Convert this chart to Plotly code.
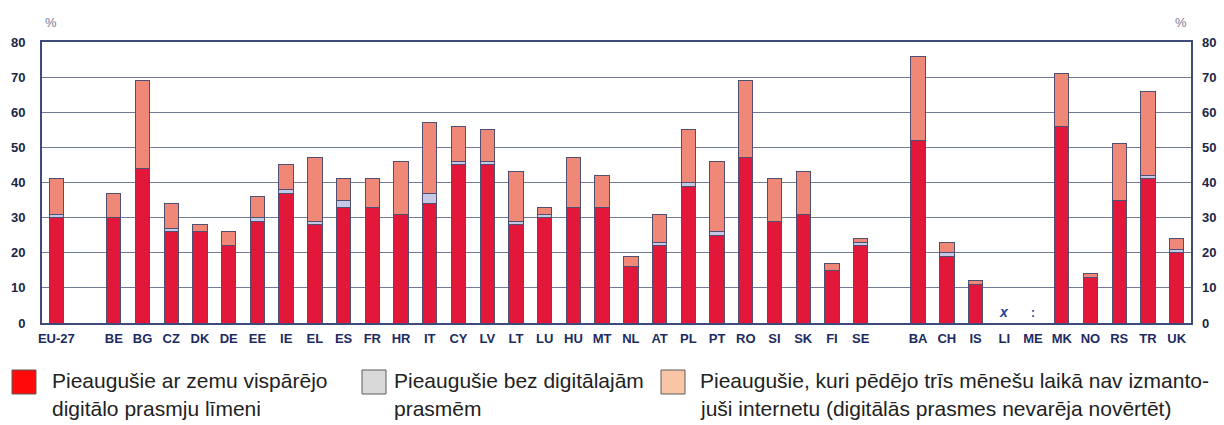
import plotly.graph_objects as go

categories = ["EU-27", " ", "BE", "BG", "CZ", "DK", "DE", "EE", "IE", "EL", "ES", "FR", "HR",
              "IT", "CY", "LV", "LT", "LU", "HU", "MT", "NL", "AT", "PL", "PT", "RO", "SI",
              "SK", "FI", "SE", "  ", "BA", "CH", "IS", "LI", "ME", "MK", "NO", "RS", "TR", "UK"]

low_skills = [30, None, 30, 44, 26, 26, 22, 29, 37, 28, 33, 33, 31,
              34, 45, 45, 28, 30, 33, 33, 16, 22, 39, 25, 47, 29,
              31, 15, 22, None, 52, 19, 11, None, None, 56, 13, 35, 41, 20]
no_skills = [1, None, 0, 0, 1, 0, 0, 1, 1, 1, 2, 0, 0,
             3, 1, 1, 1, 1, 0, 0, 0, 1, 1, 1, 0, 0,
             0, 0, 1, None, 0, 1, 0, None, None, 0, 0, 0, 1, 1]
no_internet = [10, None, 7, 25, 7, 2, 4, 6, 7, 18, 6, 8, 15,
               20, 10, 9, 14, 2, 14, 9, 3, 8, 15, 20, 22, 12,
               12, 2, 1, None, 24, 3, 1, None, None, 15, 1, 16, 24, 3]

legend_labels = [
    ["Pieaugušie ar zemu vispārējo", "digitālo prasmju līmeni"],
    ["Pieaugušie bez digitālajām", "prasmēm"],
    ["Pieaugušie, kuri pēdējo trīs mēnešu laikā nav izmanto-", "juši internetu (digitālās prasmes nevarēja novērtēt)"],
]
flags = {"LI": "x", "ME": ":"}
y_ticks = [0, 10, 20, 30, 40, 50, 60, 70, 80]

bar_colors = ["#e3173a", "#c6c9e6", "#ef8876"]
legend_colors = ["#ff0a0a", "#d9d9d9", "#f8c6a6"]
outline = "#4e4f72"
navy = "#1c2b62"

fig = go.Figure()
for vals, col in zip([low_skills, no_skills, no_internet], bar_colors):
    fig.add_trace(go.Bar(x=categories, y=vals, marker=dict(color=col, line=dict(color=outline, width=1)),
                         width=0.5, showlegend=False, hoverinfo="x+y"))
# invisible trace for right axis
fig.add_trace(go.Scatter(x=[categories[0]], y=[None], yaxis="y2", showlegend=False, hoverinfo="skip"))

fig.update_layout(
    width=1224, height=425,
    margin=dict(l=42, r=33, t=42, b=102, autoexpand=False),
    barmode="stack", bargap=0.5,
    plot_bgcolor="white", paper_bgcolor="white",
    font=dict(family="Liberation Sans, Arial, sans-serif", color=navy),
    xaxis=dict(type="category", categoryorder="array", categoryarray=categories, automargin=False,
               range=[-0.5, len(categories) - 0.5], showline=True, linecolor="#3e4b7a", linewidth=2,
               mirror=True, ticks="", showgrid=False, ticklabelstandoff=2,
               tickfont=dict(family="Liberation Sans Narrow, Arial Narrow, Liberation Sans", size=13,
                             color=navy, weight="bold")),
    yaxis=dict(range=[0, 80], tickvals=y_ticks, showgrid=True, gridcolor="#737a96", gridwidth=1.3,
               showline=True, linecolor="#3e4b7a", linewidth=2, mirror=True, zeroline=False,
               ticks="", ticklabelstandoff=12, automargin=False,
               tickfont=dict(size=13, color="#1b2647", weight="bold")),
    yaxis2=dict(range=[0, 80], tickvals=y_ticks, overlaying="y", side="right", showgrid=False,
                zeroline=False, showline=False, ticks="", ticklabelstandoff=10, automargin=False,
                tickfont=dict(size=13, color="#1b2647", weight="bold")),
)

W = 1224 - 42 - 33
H = 425 - 42 - 102

def px(x):
    return (x - 42) / W

def py(y):
    return (425 - 102 - y) / H

# % labels
for xpos in (51, 1181):
    fig.add_annotation(x=px(xpos), y=py(22), xref="paper", yref="paper", text="%", showarrow=False,
                       xanchor="center", yanchor="middle", font=dict(size=13, color="#7a7c98"))

# LI / ME flags
for cat, sym in flags.items():
    fig.add_annotation(x=cat, y=0, text=sym, showarrow=False, yanchor="bottom", yshift=1,
                       font=dict(size=14 if sym == "x" else 12, color="#2340a0",
                                 style="italic" if sym == "x" else "normal", weight="bold"))

# custom legend
swatch_x = [12, 362, 661]
text_x = [50, 392, 698]
for i in range(3):
    fig.add_shape(type="rect", xref="paper", yref="paper",
                  x0=px(swatch_x[i]), x1=px(swatch_x[i] + 24), y0=py(370), y1=py(394),
                  fillcolor=legend_colors[i], line=dict(color="#5a5a5a", width=1))
    for j, line in enumerate(legend_labels[i]):
        fig.add_annotation(x=px(text_x[i]), y=py(380 + 28 * j), xref="paper", yref="paper",
                           text=line, showarrow=False, xanchor="left", yanchor="middle",
                           font=dict(size=21, color="#222222", family="Liberation Sans, Arial"))

fig.write_html("out.html", config={"displayModeBar": False},
               post_script="document.body.style.margin='0';document.body.style.overflow='hidden';")
